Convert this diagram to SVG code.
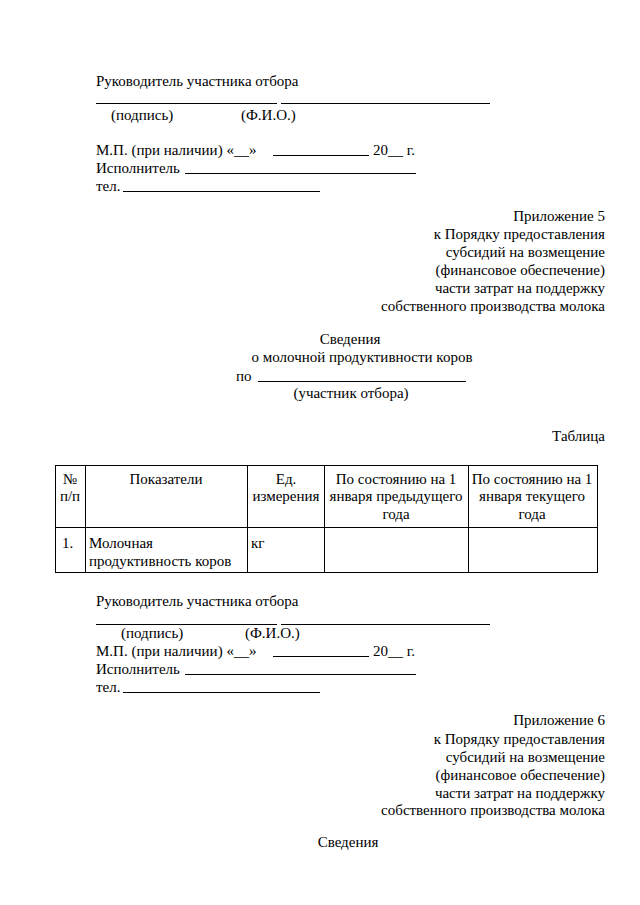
<svg xmlns="http://www.w3.org/2000/svg" width="640" height="905" viewBox="0 0 640 905">
<style>
text{font-family:"Liberation Serif","Times New Roman",serif;font-size:15px;fill:#000}
.r{text-anchor:end}
.m{text-anchor:middle}
.ln{stroke:#000;stroke-width:1;fill:none}
</style>
<rect width="640" height="905" fill="#fff"/>
<g id="signature-top">
<text x="96" y="86">Руководитель участника отбора</text>
<line class="ln" x1="96" y1="103.5" x2="277" y2="103.5"/>
<line class="ln" x1="281" y1="103.5" x2="490" y2="103.5"/>
<text x="111" y="120">(подпись)</text>
<text x="241" y="120">(Ф.И.О.)</text>
<text x="96" y="155">М.П. (при наличии) «__»</text>
<line class="ln" x1="273" y1="155.5" x2="369" y2="155.5"/>
<text x="373" y="155">20__ г.</text>
<text x="96" y="173">Исполнитель</text>
<line class="ln" x1="185" y1="173.5" x2="416" y2="173.5"/>
<text x="96" y="191">тел.</text>
<line class="ln" x1="123" y1="191.5" x2="320" y2="191.5"/>
</g>
<g id="appendix5">
<text class="r" x="605" y="221">Приложение 5</text>
<text class="r" x="605" y="239">к Порядку предоставления</text>
<text class="r" x="605" y="257">субсидий на возмещение</text>
<text class="r" x="605" y="275">(финансовое обеспечение)</text>
<text class="r" x="605" y="293">части затрат на поддержку</text>
<text class="r" x="605" y="311">собственного производства молока</text>
</g>
<g id="title5">
<text class="m" x="350" y="344">Сведения</text>
<text class="m" x="362" y="362">о молочной продуктивности коров</text>
<text x="236" y="381">по</text>
<line class="ln" x1="258" y1="381.5" x2="466" y2="381.5"/>
<text class="m" x="351" y="398">(участник отбора)</text>
<text class="r" x="605" y="441">Таблица</text>
</g>
<g id="table">
<rect class="ln" x="55.5" y="465.5" width="542" height="107"/>
<line class="ln" x1="55" y1="527.5" x2="597" y2="527.5"/>
<line class="ln" x1="85.5" y1="465" x2="85.5" y2="573"/>
<line class="ln" x1="247.5" y1="465" x2="247.5" y2="573"/>
<line class="ln" x1="324.5" y1="465" x2="324.5" y2="573"/>
<line class="ln" x1="468.5" y1="465" x2="468.5" y2="573"/>
<text class="m" x="70" y="484">№</text>
<text class="m" x="70" y="501">п/п</text>
<text class="m" x="166" y="484">Показатели</text>
<text class="m" x="286" y="484">Ед.</text>
<text class="m" x="286" y="501">измерения</text>
<text class="m" x="396" y="484">По состоянию на 1</text>
<text class="m" x="396" y="501">января предыдущего</text>
<text class="m" x="396" y="519">года</text>
<text class="m" x="532" y="484">По состоянию на 1</text>
<text class="m" x="532" y="501">января текущего</text>
<text class="m" x="532" y="519">года</text>
<text x="62" y="548">1.</text>
<text x="89" y="548">Молочная</text>
<text x="89" y="566">продуктивность коров</text>
<text x="251" y="548">кг</text>
</g>
<g id="signature-bottom">
<text x="96" y="606">Руководитель участника отбора</text>
<line class="ln" x1="96" y1="624.5" x2="277" y2="624.5"/>
<line class="ln" x1="281" y1="624.5" x2="490" y2="624.5"/>
<text x="121" y="638">(подпись)</text>
<text x="245" y="638">(Ф.И.О.)</text>
<text x="96" y="656">М.П. (при наличии) «__»</text>
<line class="ln" x1="273" y1="656.5" x2="369" y2="656.5"/>
<text x="373" y="656">20__ г.</text>
<text x="96" y="674">Исполнитель</text>
<line class="ln" x1="185" y1="674.5" x2="416" y2="674.5"/>
<text x="96" y="692">тел.</text>
<line class="ln" x1="123" y1="692.5" x2="320" y2="692.5"/>
</g>
<g id="appendix6">
<text class="r" x="605" y="725">Приложение 6</text>
<text class="r" x="605" y="744">к Порядку предоставления</text>
<text class="r" x="605" y="762">субсидий на возмещение</text>
<text class="r" x="605" y="780">(финансовое обеспечение)</text>
<text class="r" x="605" y="798">части затрат на поддержку</text>
<text class="r" x="605" y="815">собственного производства молока</text>
</g>
<g id="title6">
<text class="m" x="348" y="847">Сведения</text>
</g>
</svg>
